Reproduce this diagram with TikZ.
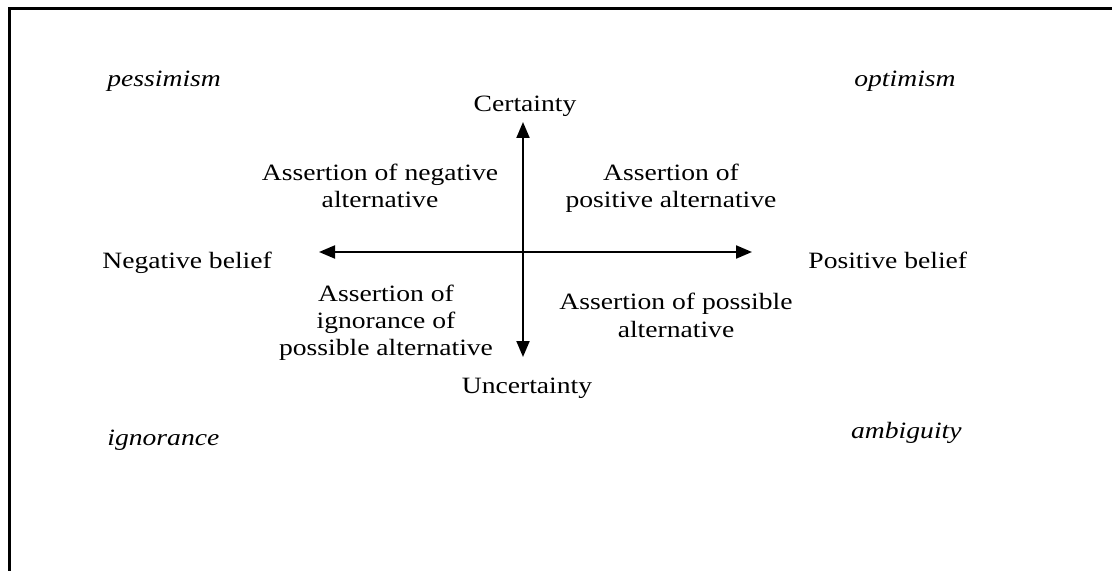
\documentclass[tikz,border=0pt]{standalone}
\usepackage{fontspec}
\setmainfont[FakeStretch=1.18]{Liberation Serif}
\usetikzlibrary{arrows.meta}
\begin{document}
\begin{tikzpicture}[x=0.5pt,y=-0.5pt,
  lbl/.style={inner sep=0pt,font=\fontsize{11.7}{13.5}\selectfont},
  mlbl/.style={lbl,align=center,anchor=base},
  axis/.style={line width=1pt,{Triangle[length=8pt,width=6.5pt]}-{Triangle[length=8pt,width=6.5pt]}},
  frame/.style={line width=1.5pt}]
\useasboundingbox (0,0) rectangle (1112,571);
\draw[frame] (9,571) -- (9,9) -- (1112,9);
% axes
\coordinate (L) at (319,252);
\coordinate (R) at (752,252);
\coordinate (T) at (523,122);
\coordinate (B) at (523,357);
\draw[axis] (L) -- (R);
\draw[axis] (T) -- (B);
% corner words
\node[lbl,anchor=base west] (pess) at (107,87) {\itshape pessimism};
\node[lbl,anchor=base east] (opt) at (956,87) {\itshape optimism};
\node[lbl,anchor=base west] (ign) at (107,445) {\itshape ignorance};
\node[lbl,anchor=base east] (amb) at (962,438) {\itshape ambiguity};
% axis labels
\node[lbl,anchor=base] (cert) at (525,112) {Certainty};
\node[lbl,anchor=base] (unc) at (527,393) {Uncertainty};
\node[lbl,anchor=base west] (neg) at (102,269) {Negative belief};
\node[lbl,anchor=base west] (pos) at (808,269) {Positive belief};
% quadrant labels
\node[mlbl] (qa) at (380,208) {Assertion of negative\\alternative};
\node[mlbl] (qb) at (671,208) {Assertion of\\positive alternative};
\node[mlbl] (qc) at (386,355) {Assertion of\\ignorance of\\possible alternative};
\node[mlbl] (qd) at (676,337) {Assertion of possible\\alternative};
\end{tikzpicture}
\end{document}
